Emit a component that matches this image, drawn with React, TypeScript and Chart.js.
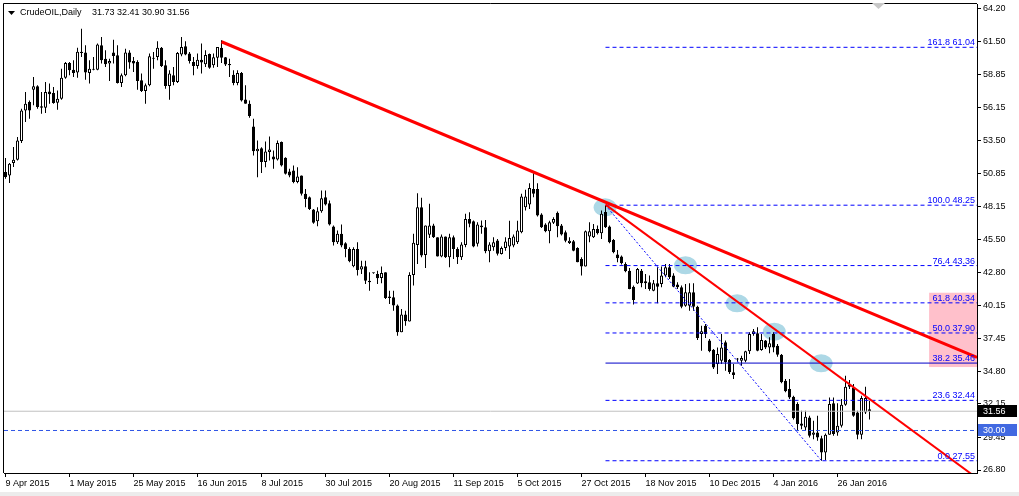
import React, { useEffect, useRef } from "react";
import { Chart, registerables } from "chart.js";

Chart.register(...registerables);

const symbolName = "CrudeOIL,Daily";
const lastBarText = "31.73 32.41 30.90 31.56";

const xTickIndex = [0, 16, 32, 48, 64, 80, 96, 112, 128, 144, 160, 176, 192, 208];
const xTickLabels = [
  "9 Apr 2015", "1 May 2015", "25 May 2015", "16 Jun 2015", "8 Jul 2015", "30 Jul 2015",
  "20 Aug 2015", "11 Sep 2015", "5 Oct 2015", "27 Oct 2015", "18 Nov 2015", "10 Dec 2015",
  "4 Jan 2016", "26 Jan 2016",
];
const yTickValues = [64.2, 61.5, 58.85, 56.15, 53.5, 50.85, 48.15, 45.5, 42.8, 40.15, 37.45, 34.8, 32.15, 29.45, 26.8];

const opens = [
  50.93, 50.66, 51.66, 51.93, 53.45, 55.93, 56.61, 57.61, 57.88, 56.26,
  56.15, 57.47, 57.34, 56.55, 56.88, 58.58, 59.77, 59.23, 58.99, 60.58,
  60.61, 58.96, 59.23, 59.23, 61.20, 60.12, 59.72, 60.61, 60.39, 58.15,
  58.77, 60.61, 59.93, 59.85, 58.37, 57.50, 57.96, 60.12, 60.26, 61.01,
  59.58, 57.91, 58.77, 58.23, 60.45, 61.12, 60.53, 59.85, 59.53, 60.04,
  59.66, 60.50, 59.58, 60.20, 61.01, 60.23, 59.69, 58.82, 58.15, 58.96,
  56.82, 56.47, 54.63, 52.63, 52.87, 51.74, 52.55, 52.20, 51.95, 53.36,
  52.09, 50.98, 51.06, 50.12, 50.66, 49.17, 48.90, 47.90, 46.95, 47.76,
  48.90, 48.41, 46.52, 45.25, 45.93, 45.17, 44.71, 43.31, 44.71, 43.04,
  43.31, 42.14, 42.74, 42.68, 42.36, 42.82, 40.85, 40.79, 40.12, 37.95,
  39.39, 38.82, 42.60, 45.03, 48.09, 44.22, 45.85, 46.60, 45.66, 44.09,
  45.71, 44.03, 45.66, 44.71, 44.03, 45.03, 47.14, 46.95, 45.12, 46.60,
  46.47, 44.52, 44.85, 45.39, 44.30, 44.79, 44.90, 44.98, 45.25, 46.06,
  48.09, 48.30, 49.57, 49.57, 47.49, 46.68, 46.14, 46.82, 47.63, 46.60,
  46.06, 45.19, 45.33, 44.79, 43.90, 43.28, 45.71, 45.65, 46.33, 45.98,
  47.70, 46.52, 45.44, 44.25, 44.09, 43.49, 42.95, 41.65, 41.90, 42.95,
  42.09, 42.01, 41.33, 41.92, 41.87, 42.55, 43.22, 42.55, 41.82, 41.60,
  40.11, 40.11, 41.19, 40.03, 37.82, 38.49, 37.28, 36.55, 35.38, 35.65,
  37.14, 35.71, 34.71, 35.76, 35.65, 35.65, 36.41, 37.82, 37.87, 36.52,
  37.28, 36.73, 37.82, 36.87, 36.14, 34.03, 33.36, 32.74, 32.14, 30.57,
  30.25, 31.06, 29.65, 29.84, 29.38, 28.22, 29.65, 32.20, 29.84, 30.38,
  32.09, 33.55, 33.49, 31.46, 29.65, 31.46, 31.73,
];
const highs = [
  52.07, 51.66, 52.96, 53.77, 56.07, 57.42, 56.74, 58.64, 57.96, 57.42,
  58.23, 58.10, 57.83, 57.55, 59.31, 59.85, 59.85, 59.99, 61.01, 62.55,
  61.20, 59.99, 60.26, 61.34, 61.88, 60.80, 60.12, 61.66, 61.20, 58.91,
  60.93, 60.80, 60.26, 59.99, 58.91, 58.10, 60.53, 60.66, 61.53, 61.07,
  59.99, 59.18, 59.45, 60.66, 61.88, 61.53, 60.66, 60.26, 60.53, 61.34,
  60.80, 60.53, 60.53, 61.07, 61.61, 60.26, 60.12, 59.18, 59.18, 59.04,
  57.96, 56.74, 55.25, 53.49, 52.95, 53.41, 53.82, 52.68, 53.49, 53.41,
  52.14, 51.20, 51.47, 51.33, 50.66, 49.57, 48.95, 47.95, 48.09, 49.44,
  49.44, 48.63, 46.60, 46.20, 46.68, 45.25, 44.85, 44.85, 45.25, 43.76,
  43.76, 42.82, 42.76, 42.95, 43.28, 42.82, 41.33, 41.33, 40.20, 39.85,
  39.71, 42.82, 45.93, 49.22, 48.85, 46.60, 48.36, 46.74, 45.66, 45.87,
  45.71, 45.93, 45.79, 44.85, 45.25, 47.55, 47.68, 47.01, 46.87, 47.01,
  47.06, 45.25, 45.66, 45.52, 44.90, 45.65, 47.00, 45.87, 47.00, 49.17,
  49.50, 50.03, 50.84, 50.03, 47.60, 46.79, 47.00, 47.28, 47.74, 46.73,
  46.20, 45.65, 45.44, 44.84, 44.03, 46.20, 46.87, 46.73, 46.60, 47.82,
  48.25, 46.60, 45.52, 44.63, 44.17, 43.63, 43.17, 41.74, 43.17, 43.09,
  42.68, 42.55, 42.20, 43.22, 43.28, 43.49, 43.49, 42.74, 42.01, 41.74,
  41.87, 41.92, 41.92, 40.11, 38.49, 38.63, 37.41, 36.60, 36.73, 37.82,
  37.28, 35.79, 35.38, 35.87, 36.06, 36.46, 37.95, 38.22, 38.36, 37.82,
  37.33, 37.55, 37.95, 37.00, 36.19, 34.17, 34.17, 32.82, 32.28, 31.60,
  31.60, 31.19, 30.79, 31.19, 29.57, 29.76, 32.68, 32.68, 32.20, 32.55,
  34.44, 34.09, 33.76, 31.60, 32.82, 33.55, 32.41,
];
const lows = [
  50.39, 50.04, 51.34, 51.88, 53.28, 54.99, 55.26, 56.34, 56.07, 55.66,
  55.72, 56.47, 56.47, 55.99, 56.80, 58.50, 58.77, 58.64, 58.58, 60.26,
  58.42, 58.10, 59.18, 59.18, 59.72, 59.45, 58.31, 59.72, 58.10, 57.83,
  58.69, 59.31, 59.04, 57.61, 57.42, 56.47, 57.88, 59.31, 59.99, 59.45,
  57.69, 56.80, 57.96, 58.15, 60.31, 60.39, 59.72, 58.77, 59.31, 58.91,
  59.45, 59.31, 59.39, 59.45, 59.77, 59.53, 58.64, 57.96, 57.96, 56.66,
  56.47, 55.34, 52.28, 50.52, 50.85, 51.33, 51.87, 51.20, 51.87, 51.39,
  50.74, 50.52, 50.03, 50.03, 49.03, 48.09, 47.87, 46.74, 46.55, 47.63,
  48.22, 46.60, 44.98, 45.11, 44.85, 44.03, 43.63, 43.22, 42.55, 42.68,
  41.87, 41.33, 42.70, 41.87, 41.93, 40.66, 40.25, 39.71, 37.68, 37.95,
  38.49, 38.82, 41.74, 43.49, 44.03, 43.17, 45.60, 45.60, 44.09, 44.03,
  43.98, 43.22, 43.90, 43.49, 43.82, 44.85, 46.47, 44.85, 44.90, 45.93,
  44.36, 43.63, 44.57, 44.17, 44.25, 44.57, 43.90, 44.84, 45.11, 45.98,
  47.82, 47.95, 48.90, 47.33, 46.41, 46.06, 45.17, 46.73, 45.65, 45.79,
  45.25, 45.11, 44.52, 43.63, 42.55, 43.28, 45.25, 45.60, 45.87, 45.52,
  46.40, 45.17, 44.36, 43.63, 43.44, 42.82, 41.44, 40.20, 41.87, 41.60,
  41.46, 41.33, 41.28, 40.30, 41.60, 42.41, 42.28, 41.60, 41.46, 39.90,
  40.03, 39.71, 39.71, 37.33, 36.46, 37.49, 36.33, 34.98, 34.57, 35.38,
  34.84, 34.57, 34.17, 35.52, 35.25, 35.52, 36.19, 37.68, 36.41, 36.46,
  36.60, 36.25, 36.33, 35.98, 33.82, 33.09, 32.55, 30.90, 29.98, 30.11,
  29.98, 29.44, 29.30, 29.17, 27.55, 27.60, 29.65, 29.57, 29.57, 30.25,
  32.01, 33.36, 31.11, 29.30, 29.30, 31.33, 30.90,
];
const closes = [
  50.53, 51.61, 51.93, 53.50, 55.93, 56.47, 55.93, 57.88, 56.20, 56.15,
  57.42, 57.23, 56.53, 56.88, 58.58, 59.77, 59.18, 58.96, 60.69, 60.69,
  58.99, 59.31, 59.31, 61.26, 59.99, 59.66, 59.93, 60.34, 58.15, 58.77,
  60.61, 59.80, 59.72, 58.31, 57.50, 57.96, 60.31, 60.20, 61.01, 59.53,
  57.91, 58.91, 58.23, 60.58, 61.07, 60.45, 59.93, 59.53, 60.04, 59.80,
  60.42, 59.39, 60.23, 61.07, 60.20, 59.64, 59.58, 58.15, 58.96, 56.74,
  56.47, 55.47, 52.63, 52.82, 51.74, 52.60, 52.76, 51.95, 53.28, 51.47,
  50.79, 50.66, 50.12, 50.57, 49.17, 48.76, 47.95, 46.82, 47.76, 48.82,
  48.30, 46.68, 45.25, 45.93, 44.98, 44.71, 43.71, 44.71, 43.01, 43.31,
  42.14, 42.01, 42.74, 42.33, 42.76, 40.74, 40.74, 40.12, 37.95, 39.39,
  38.85, 42.60, 45.20, 48.09, 44.17, 46.60, 46.60, 45.66, 44.09, 45.71,
  44.03, 45.66, 44.71, 44.03, 45.06, 47.14, 46.74, 44.90, 46.68, 46.47,
  44.52, 45.06, 45.25, 44.31, 44.79, 45.30, 45.60, 45.71, 46.20, 48.95,
  48.95, 49.65, 49.17, 47.41, 46.46, 46.14, 46.87, 47.14, 46.55, 45.87,
  45.38, 45.38, 44.57, 43.63, 43.28, 46.14, 46.14, 46.33, 45.98, 47.55,
  46.46, 45.25, 44.44, 43.95, 43.55, 42.90, 41.46, 40.57, 43.09, 41.92,
  41.92, 41.46, 41.92, 41.65, 42.55, 43.22, 42.41, 41.65, 41.60, 40.03,
  41.19, 41.19, 40.03, 37.49, 38.04, 37.82, 36.41, 35.11, 36.19, 36.73,
  35.52, 34.71, 34.49, 35.76, 35.87, 36.41, 37.82, 38.03, 36.46, 37.33,
  36.73, 37.06, 36.73, 36.14, 33.90, 33.17, 32.68, 31.00, 30.52, 30.38,
  31.11, 29.57, 29.84, 29.44, 28.22, 29.65, 32.14, 29.71, 30.38, 32.09,
  33.55, 33.71, 31.19, 29.65, 32.63, 32.63, 31.56,
];

// Drawn objects, in chart units (bar index, price)
const trendAX = [54, 242.875];
const trendAY = [61.49, 35.93];
const trendBX = [150, 242.875];
const trendBY = [48.3, 26.14];
const fibDiagX = [150, 204];
const fibDiagY = [48.25, 27.55];
const fibStartX = 150;
const fibRatios = [161.8, 100.0, 76.4, 61.8, 50.0, 38.2, 23.6, 0.0];
const fibPrices = [61.04, 48.25, 43.36, 40.34, 37.9, 35.46, 32.44, 27.55];
const bidPrice = 31.56;
const alertPrice = 30.0;
const zoneX = [230.9, 242.875];
const zoneY = [41.16, 35.14];
const markerX = [149.9, 170.0, 182.9, 192.2, 203.9];
const markerY = [48.08, 43.38, 40.3, 38.0, 35.44];

const X_MIN = -0.375;
const X_MAX = 242.875;
const Y_MIN = 26.557;
const Y_MAX = 64.548;

const FONT = '"Liberation Sans", Arial, sans-serif';

export default function App() {
  const ref = useRef<HTMLCanvasElement>(null);

  useEffect(() => {
    const canvas = ref.current;
    if (!canvas) return;

    const idx = opens.map((_, i) => i);
    const bodies = idx.map((i) => ({ x: i, y: [opens[i], closes[i]] }));
    const wicks = idx.map((i) => ({ x: i, y: [lows[i], highs[i]] }));
    const bodyColors = idx.map((i) => (closes[i] >= opens[i] ? "#ffffff" : "#000000"));
    const seg = (xs: number[], ys: number[]) => xs.map((v, k) => ({ x: v, y: ys[k] }));

    const lineBase = { type: "line", pointRadius: 0, fill: false, tension: 0 };

    const fibSets = fibRatios.map((r, k) => ({
      ...lineBase,
      data: seg([fibStartX, X_MAX], [fibPrices[k], fibPrices[k]]),
      borderColor: r === 38.2 ? "#0000c8" : "#0000ff",
      borderWidth: 1,
      borderDash: r === 38.2 ? [] : [4, 3],
      order: 3,
    }));

    const overlay = {
      id: "mt4Overlay",
      beforeDatasetsDraw(chart: any) {
        const { ctx, chartArea: a, scales } = chart;
        const x = scales.x, y = scales.y;
        ctx.save();
        ctx.beginPath();
        ctx.rect(a.left, a.top, a.right - a.left, a.bottom - a.top);
        ctx.clip();
        const zx0 = x.getPixelForValue(zoneX[0]);
        const zx1 = x.getPixelForValue(zoneX[1]);
        const zy0 = y.getPixelForValue(zoneY[0]);
        const zy1 = y.getPixelForValue(zoneY[1]);
        ctx.fillStyle = "#ffc0cb";
        ctx.fillRect(zx0, zy0, zx1 - zx0, zy1 - zy0);
        ctx.fillStyle = "#add8e6";
        markerX.forEach((m, i) => {
          ctx.beginPath();
          ctx.ellipse(x.getPixelForValue(m), y.getPixelForValue(markerY[i]), 11.5, 9, 0, 0, Math.PI * 2);
          ctx.fill();
        });
        ctx.restore();
      },
      afterDatasetsDraw(chart: any) {
        const { ctx, chartArea: a, scales } = chart;
        const y = scales.y;
        ctx.save();
        ctx.font = `9px ${FONT}`;
        ctx.fillStyle = "#0000ff";
        ctx.textAlign = "right";
        ctx.textBaseline = "alphabetic";
        fibRatios.forEach((r, k) => {
          const py = y.getPixelForValue(fibPrices[k]);
          ctx.fillText(`${r.toFixed(1)} ${fibPrices[k].toFixed(2)}`, a.right - 2, py - 2);
        });
        ctx.restore();
      },
      afterDraw(chart: any) {
        const { ctx, chartArea: a, scales } = chart;
        const y = scales.y;
        ctx.save();
        // frame
        ctx.strokeStyle = "#000";
        ctx.lineWidth = 1;
        ctx.beginPath();
        ctx.moveTo(a.left - 0.5, a.bottom);
        ctx.lineTo(a.left - 0.5, a.top - 0.5);
        ctx.lineTo(a.right, a.top - 0.5);
        ctx.stroke();
        // header
        ctx.fillStyle = "#000";
        ctx.beginPath();
        ctx.moveTo(8, 11);
        ctx.lineTo(15, 11);
        ctx.lineTo(11.5, 15);
        ctx.closePath();
        ctx.fill();
        ctx.font = `9px ${FONT}`;
        ctx.textBaseline = "middle";
        ctx.textAlign = "left";
        ctx.fillText(symbolName, 20, 13);
        ctx.fillText(lastBarText, 92, 13);
        // one-click marker
        ctx.fillStyle = "#c8c8c8";
        ctx.beginPath();
        ctx.moveTo(872, 3);
        ctx.lineTo(885, 3);
        ctx.lineTo(878.5, 9);
        ctx.closePath();
        ctx.fill();
        // axis price boxes
        const drawBox = (price: number, bg: string) => {
          const py = Math.round(y.getPixelForValue(price));
          ctx.fillStyle = bg;
          ctx.fillRect(a.right + 1, py - 6, 39, 12);
          ctx.fillStyle = "#fff";
          ctx.fillText(price.toFixed(2), a.right + 6, py + 0.5);
        };
        drawBox(bidPrice, "#000000");
        drawBox(alertPrice, "#4169e1");
        // window bottom strip
        ctx.fillStyle = "#ececec";
        ctx.fillRect(0, 492, 1019, 4);
        ctx.restore();
      },
    };

    const chart = new Chart(canvas, {
      type: "bar",
      data: {
        datasets: [
          { ...lineBase, data: seg(trendAX, trendAY), borderColor: "#ff0000", borderWidth: 3, order: 0 },
          { ...lineBase, data: seg(trendBX, trendBY), borderColor: "#ff0000", borderWidth: 2, order: 1 },
          { ...lineBase, data: seg(fibDiagX, fibDiagY), borderColor: "#0000ff", borderWidth: 1, borderDash: [2, 2], order: 2 },
          ...fibSets,
          { ...lineBase, data: seg([X_MIN, X_MAX], [alertPrice, alertPrice]), borderColor: "#2f55e6", borderWidth: 1, borderDash: [4, 3], order: 4 },
          { ...lineBase, data: seg([X_MIN, X_MAX], [bidPrice, bidPrice]), borderColor: "#c0c0c0", borderWidth: 1, order: 5 },
          {
            type: "bar",
            data: bodies,
            backgroundColor: bodyColors,
            borderColor: "#000000",
            borderWidth: 1,
            borderSkipped: false,
            barThickness: 3,
            maxBarThickness: 3,
            minBarLength: 1,
            inflateAmount: 0,
            grouped: false,
            order: 6,
          },
          {
            type: "bar",
            data: wicks,
            backgroundColor: "#000000",
            borderWidth: 0,
            barThickness: 1,
            maxBarThickness: 1,
            minBarLength: 1,
            inflateAmount: 0,
            grouped: false,
            order: 7,
          },
        ] as any,
      },
      options: {
        animation: false,
        responsive: false,
        maintainAspectRatio: false,
        devicePixelRatio: 1,
        events: [],
        layout: { padding: { left: 4, top: 4, right: 0, bottom: 0 } },
        plugins: { legend: { display: false }, tooltip: { enabled: false }, title: { display: false } },
        scales: {
          x: {
            type: "linear",
            min: X_MIN,
            max: X_MAX,
            offset: false,
            bounds: "data",
            grid: { display: true, drawOnChartArea: false, drawTicks: true, tickLength: 4, color: "#000", offset: false },
            border: { display: true, color: "#000", width: 1 },
            ticks: {
              autoSkip: false,
              maxRotation: 0,
              minRotation: 0,
              align: "start",
              padding: 1,
              color: "#000",
              font: { family: FONT, size: 9 },
              callback: (_v: any, i: number) => xTickLabels[i] ?? "",
            },
            afterBuildTicks: (s: any) => {
              s.ticks = xTickIndex.map((v) => ({ value: v }));
            },
            afterFit: (s: any) => {
              s.height = 23;
              s.paddingLeft = 0;
              s.paddingRight = 0;
            },
          },
          y: {
            type: "linear",
            position: "right",
            min: Y_MIN,
            max: Y_MAX,
            bounds: "data",
            beginAtZero: false,
            grid: { display: true, drawOnChartArea: false, drawTicks: true, tickLength: 4, color: "#000" },
            border: { display: true, color: "#000", width: 1 },
            ticks: {
              autoSkip: false,
              padding: 2,
              color: "#000",
              font: { family: FONT, size: 9 },
              callback: (v: any) => Number(v).toFixed(2),
            },
            afterBuildTicks: (s: any) => {
              s.ticks = yTickValues.map((v) => ({ value: v }));
            },
            afterFit: (s: any) => {
              s.width = 42;
              s.paddingTop = 0;
              s.paddingBottom = 0;
            },
          },
        },
      } as any,
      plugins: [overlay],
    });

    return () => chart.destroy();
  }, []);

  return (
    <div style={{ position: "fixed", left: 0, top: 0, width: 1019, height: 496, background: "#ffffff" }}>
      <canvas ref={ref} width={1019} height={496} style={{ display: "block", width: 1019, height: 496 }} />
    </div>
  );
}
